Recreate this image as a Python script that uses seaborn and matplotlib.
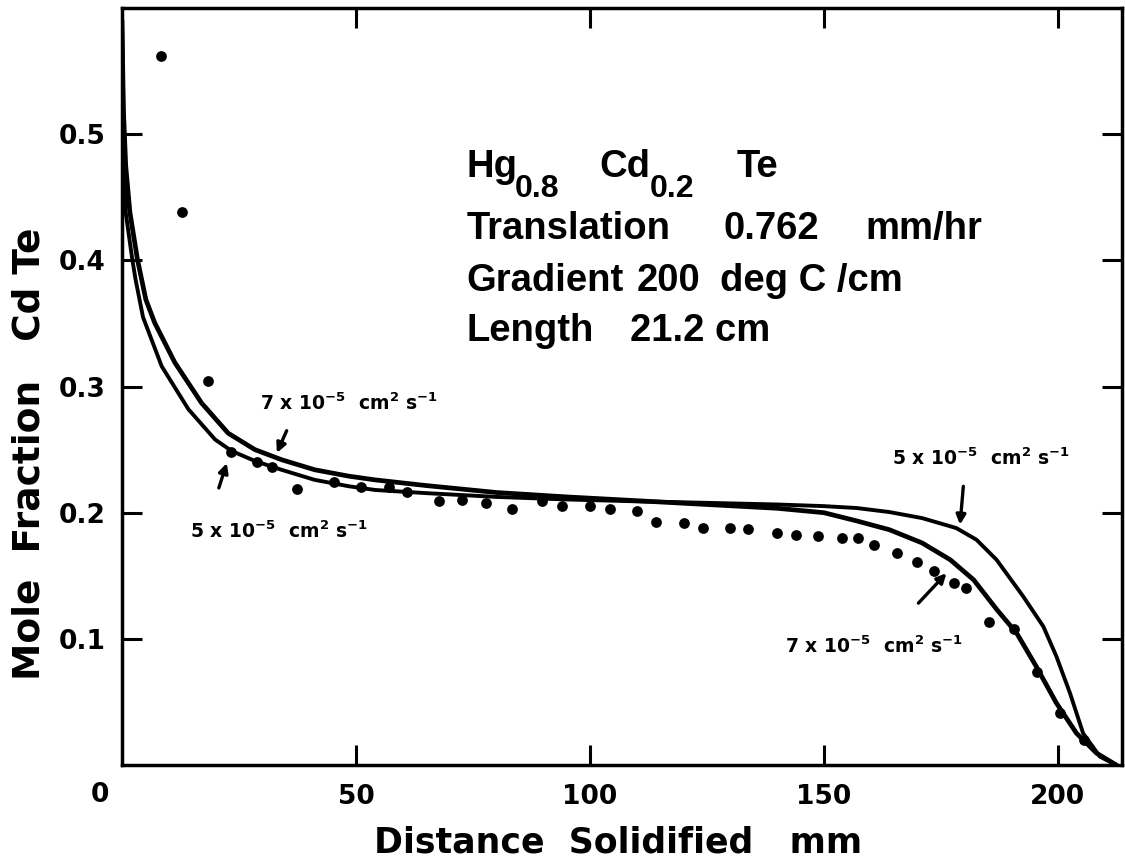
import matplotlib
matplotlib.use('Agg')
from matplotlib import pyplot as plt
import pandas as pd
import seaborn as sns

# model curves, D = 7e-5 cm2/s (upper at left, inner at right)
d7_x = [0, 0.3, 0.8, 1.7, 3.3, 4.2, 5.1, 7.0, 11.3, 17.0, 22.7, 28.4, 34.1, 41.2, 48.4,
        54.1, 65, 80, 95, 110, 125, 140, 150, 157, 164, 171, 177, 182, 187, 191.2,
        195.4, 199.7, 204, 208.3, 212.5]
d7_y = [0.59, 0.52, 0.475, 0.438, 0.401, 0.385, 0.369, 0.3505, 0.319, 0.287, 0.263, 0.250,
        0.242, 0.234, 0.229, 0.226, 0.2215, 0.216, 0.2125, 0.2095, 0.2065, 0.2035, 0.200,
        0.1935, 0.1865, 0.176, 0.1627, 0.1468, 0.123, 0.1045, 0.078, 0.049, 0.0251,
        0.0093, 0.0]

# model curves, D = 5e-5 cm2/s (lower at left, outer at right)
d5_x = [0, 0.4, 0.8, 2.2, 2.9, 4.5, 8.5, 14.2, 19.9, 23.4, 28.4, 34.1, 41.2, 48.4, 54.1,
        65, 80, 95, 110, 125, 140, 150, 157, 164, 171, 178.3, 182.6, 186.9, 192.6, 196.9,
        199.7, 202.6, 205.4, 209, 212.5]
d5_y = [0.59, 0.50, 0.438, 0.401, 0.385, 0.355, 0.316, 0.282, 0.258, 0.249, 0.241, 0.234,
        0.226, 0.221, 0.218, 0.2155, 0.2125, 0.2105, 0.209, 0.2078, 0.2065, 0.2052, 0.2037,
        0.2005, 0.1957, 0.1878, 0.1786, 0.1627, 0.1336, 0.1098, 0.086, 0.0569, 0.0251,
        0.0066, 0.0]

# measured points
dot_x = [8.3, 12.8, 18.4, 23.3, 28.9, 32.1, 37.4, 45.3, 51.0, 57.0, 60.9, 67.7, 72.6, 77.7,
         83.4, 89.8, 94.1, 100.0, 104.3, 110.1, 114.1, 120.1, 124.2, 129.9, 133.8, 140.0,
         144.0, 148.7, 153.8, 157.3, 160.8, 165.6, 169.9, 173.5, 177.8, 180.3, 185.3,
         190.6, 195.5, 200.4, 205.6]
dot_y = [0.562, 0.438, 0.304, 0.248, 0.240, 0.236, 0.219, 0.224, 0.220, 0.220, 0.216, 0.209,
         0.210, 0.208, 0.203, 0.209, 0.2056, 0.205, 0.203, 0.201, 0.193, 0.192, 0.188, 0.188,
         0.187, 0.184, 0.1825, 0.1817, 0.180, 0.180, 0.1746, 0.168, 0.161, 0.154, 0.144,
         0.140, 0.1135, 0.108, 0.074, 0.041, 0.020]

x_ticks = [50, 100, 150, 200]
y_ticks = [0.1, 0.2, 0.3, 0.4, 0.5]
y_tick_labels = ['0.1', '0.2', '0.3', '0.4', '0.5']

sns.set_style('ticks')
plt.rcParams['font.family'] = ['DejaVu Sans']
plt.rcParams['font.weight'] = 'bold'
plt.rcParams['text.color'] = 'black'
plt.rcParams['mathtext.fontset'] = 'custom'
plt.rcParams['mathtext.rm'] = 'DejaVu Sans:bold'
plt.rcParams['mathtext.it'] = 'DejaVu Sans:bold'
plt.rcParams['mathtext.bf'] = 'DejaVu Sans:bold'

fig = plt.figure(figsize=(11.25, 8.65), dpi=100)
ax = fig.add_axes([0.1084, 0.1156, 0.8889, 0.8751])

df7 = pd.DataFrame({'x': d7_x, 'y': d7_y})
df5 = pd.DataFrame({'x': d5_x, 'y': d5_y})
sns.lineplot(data=df7, x='x', y='y', sort=False, estimator=None, color='black', lw=3.4, ax=ax)
sns.lineplot(data=df5, x='x', y='y', sort=False, estimator=None, color='black', lw=2.8, ax=ax)
sns.scatterplot(x=dot_x, y=dot_y, color='black', s=60, linewidth=0, ax=ax, zorder=3)

ax.set_xlim(0, 213.7)
ax.set_ylim(0, 0.6)
ax.set_xticks(x_ticks)
ax.set_xticklabels([str(t) for t in x_ticks])
ax.set_yticks(y_ticks)
ax.set_yticklabels(y_tick_labels)
ax.tick_params(direction='in', length=14.5, width=2.2, top=True, right=True,
               labelsize=19, colors='black')
ax.tick_params(axis='x', pad=14)
ax.tick_params(axis='y', pad=12)
for s in ax.spines.values():
    s.set_linewidth(2.5)
    s.set_color('black')
ax.set_xlabel('')
ax.set_ylabel('')

ax.text(-0.022, -0.04, '0', transform=ax.transAxes, ha='center', va='center', fontsize=19)
ax.text(0.496, -0.102, 'Distance  Solidified   mm', transform=ax.transAxes,
        ha='center', va='center', fontsize=25)
ax.text(-0.092, 0.411, 'Mole  Fraction   Cd Te', transform=ax.transAxes, rotation=90,
        ha='center', va='center', fontsize=27)

# sample info block
big = dict(fontsize=27.5, family='Liberation Sans', weight='bold', va='baseline', ha='left')
sub = dict(fontsize=23, family='Liberation Sans', weight='bold', va='baseline', ha='left')
ax.text(73.7, 0.4659, 'Hg', **big)
ax.text(84.0, 0.450, '0.8', **sub)
ax.text(102.1, 0.4659, 'Cd', **big)
ax.text(112.8, 0.450, '0.2', **sub)
ax.text(131.4, 0.4659, 'Te', **big)
ax.text(73.7, 0.417, 'Translation', **big)
ax.text(128.5, 0.417, '0.762', **big)
ax.text(158.8, 0.417, 'mm/hr', **big)
ax.text(73.7, 0.3754, 'Gradient', **big)
ax.text(110.0, 0.3754, '200', **big)
ax.text(127.7, 0.3754, 'deg C /cm', **big)
ax.text(73.7, 0.3357, 'Length', **big)
ax.text(108.5, 0.3357, '21.2 cm', **big)

lab7 = r'7 x 10$^{-5}$  cm$^{2}$ s$^{-1}$'
lab5 = r'5 x 10$^{-5}$  cm$^{2}$ s$^{-1}$'
ax.text(29.5, 0.2817, lab7, fontsize=13.5, va='baseline')
ax.text(14.5, 0.180, lab5, fontsize=13.5, va='baseline')
ax.text(164.5, 0.238, lab5, fontsize=13.5, va='baseline')
ax.text(141.7, 0.0889, lab7, fontsize=13.5, va='baseline')

arrow = dict(arrowstyle='-|>', color='black', lw=2.4, mutation_scale=14, shrinkA=0, shrinkB=0)
ax.annotate('', xy=(33.1, 0.2474), xytext=(35.2, 0.265), arrowprops=arrow)
ax.annotate('', xy=(22.4, 0.2393), xytext=(20.7, 0.2196), arrowprops=arrow)
ax.annotate('', xy=(179.1, 0.1905), xytext=(179.8, 0.2209), arrowprops=arrow)
ax.annotate('', xy=(176.2, 0.152), xytext=(170.2, 0.1283), arrowprops=arrow)

fig.savefig('out.png', dpi=100)
